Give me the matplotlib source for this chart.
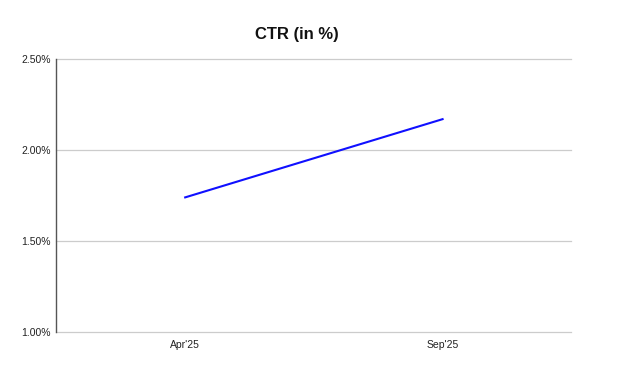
import matplotlib.pyplot as plt
from matplotlib.ticker import FuncFormatter

plt.rcParams['font.family'] = ['Liberation Sans', 'DejaVu Sans']

months = ["Apr'25", "Sep'25"]
ctr = [1.74, 2.17]
yticks = [1.0, 1.5, 2.0, 2.5]

fig = plt.figure(figsize=(6.18, 3.79), dpi=100)
ax = fig.add_axes([0.0914, 0.124, 0.833, 0.72])

ax.plot(range(len(months)), ctr, color="#1010ff", linewidth=1.5)

ax.set_xlim(-0.5, len(months) - 0.5)
ax.set_ylim(1.0, 2.5)
ax.set_yticks(yticks)
ax.yaxis.set_major_formatter(FuncFormatter(lambda v, p: f"{v:.2f}%"))
ax.set_xticks(range(len(months)))
ax.set_xticklabels(months)

for v in yticks:
    ax.axhline(v, color="#cccccc", linewidth=0.9, zorder=0, clip_on=False)
for s in ["top", "right", "bottom"]:
    ax.spines[s].set_visible(False)
ax.spines["left"].set_color("#555555")
ax.spines["left"].set_linewidth(1.0)
ax.spines["left"].set_zorder(3)
ax.tick_params(length=0, labelsize=7.5, colors="#222222", pad=4)
ax.tick_params(axis="x", pad=6)

fig.text(0.481, 0.908, "CTR (in %)", ha="center", va="center",
         fontsize=12, fontweight="bold", color="#111111")

fig.savefig("out.png", dpi=100)
